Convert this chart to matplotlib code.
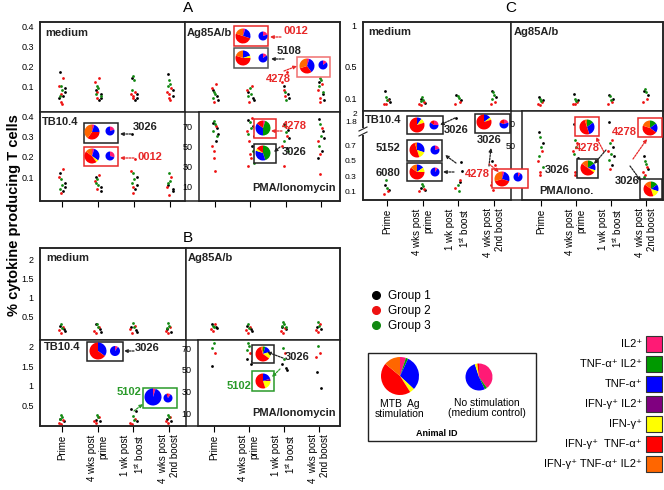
import matplotlib
matplotlib.use("Agg")
import matplotlib.pyplot as plt
from matplotlib.patches import Rectangle
from matplotlib.lines import Line2D

plt.rcParams['font.family'] = ['Liberation Sans', 'DejaVu Sans']
plt.rcParams['mathtext.fontset'] = 'custom'
plt.rcParams['mathtext.rm'] = 'Liberation Sans'

# ---- data -------------------------------------------------------------
TIMEPOINTS = ["Prime", "4 wks post\nprime", "1 wk post\n1$^{\\mathrm{st}}$ boost", "4  wks post\n2nd boost"]
GROUPS = ["Group 1", "Group 2", "Group 3"]
GROUP_COLORS = ["#000000", "#ee1111", "#118811"]

# each quadrant: 4 timepoints x [group1, group2, group3] values
A_MED = [[[0.17, 0.09, 0.07, 0.05, 0.04], [0.14, 0.10, 0.06, 0.02, 0.01], [0.10, 0.08, 0.05]],
         [[0.08, 0.06, 0.04, 0.03], [0.14, 0.12, 0.07, 0.04], [0.10, 0.09, 0.06, 0.05]],
         [[0.14, 0.06, 0.04, 0.03], [0.07, 0.06, 0.05, 0.04], [0.15, 0.13, 0.08]],
         [[0.16, 0.08, 0.05], [0.09, 0.07, 0.06, 0.04, 0.03], [0.13, 0.11, 0.10]]]
A_AG85 = [[[0.08, 0.05, 0.03], [0.11, 0.09, 0.02], [0.07, 0.06, 0.04]],
          [[0.07, 0.04, 0.03], [0.10, 0.08, 0.02], [0.09, 0.06, 0.05]],
          [[0.10, 0.06, 0.04], [0.17, 0.12, 0.08, 0.05], [0.07, 0.03]],
          [[0.12, 0.06, 0.03], [0.11, 0.08, 0.04, 0.02], [0.14, 0.13, 0.10, 0.07]]]
A_TB = [[[0.12, 0.07, 0.05, 0.03], [0.14, 0.10, 0.02], [0.09, 0.06, 0.04]],
        [[0.10, 0.05, 0.03], [0.11, 0.08, 0.04], [0.09, 0.06, 0.07]],
        [[0.31, 0.10, 0.06, 0.04], [0.19, 0.13, 0.05, 0.02], [0.12, 0.09, 0.07]],
        [[0.06, 0.04, 0.03], [0.10, 0.05, 0.01], [0.12, 0.08, 0.07]]]
A_PMA = [[[73, 68, 62, 55], [70, 50, 45, 38, 25], [75, 72, 65, 60]],
         [[76, 70, 60, 50], [78, 65, 55, 42, 38, 30], [74, 68, 62, 45, 33]],
         [[72, 66, 58, 48], [60, 50, 30], [70, 64, 55, 45]],
         [[77, 65, 58, 45, 38], [68, 55, 42, 22], [72, 60, 50]]]

B_MED = [[[0.25, 0.15, 0.10], [0.20, 0.12, 0.05], [0.30, 0.18]],
         [[0.28, 0.15, 0.08], [0.22, 0.10, 0.05], [0.30, 0.20]],
         [[0.20, 0.12, 0.08], [0.25, 0.15, 0.06], [0.32, 0.22]],
         [[0.15, 0.08], [0.20, 0.10, 0.05], [0.32, 0.25, 0.18]]]
B_AG85 = [[[0.28, 0.20, 0.18], [0.30, 0.15, 0.10], [0.25, 0.22]],
          [[0.25, 0.15, 0.10], [0.20, 0.12, 0.05], [0.28, 0.18]],
          [[0.22, 0.15], [0.18, 0.10, 0.05], [0.35, 0.30, 0.25, 0.20]],
          [[0.22, 0.15], [0.30, 0.12, 0.08], [0.35, 0.25]]]
B_TB = [[[0.15, 0.10], [0.12, 0.05, 0.02], [0.25, 0.20, 0.15]],
        [[0.12, 0.08], [0.20, 0.10, 0.03], [0.25, 0.18]],
        [[0.40, 0.36, 0.10], [0.15, 0.05, 0.02], [0.22, 0.12]],
        [[0.15, 0.08], [0.20, 0.10, 0.03], [0.25, 0.18]]]
B_PMA = [[[53], [65], [78, 75, 70]],
         [[60, 55, 58], [65], [75, 72, 68]],
         [[55, 52, 50], [65], [70, 60]],
         [[48, 33], [65, 62], [72]]]

C_MED = [[[0.20, 0.10, 0.06], [0.08, 0.04, 0.03], [0.12, 0.09]],
         [[0.10, 0.05], [0.06, 0.03, 0.02], [0.12, 0.09, 0.07]],
         [[0.15, 0.08], [0.06, 0.04], [0.13, 0.11]],
         [[0.20, 0.12], [0.06, 0.03], [0.18, 0.15, 0.10]]]
C_AG85 = [[[0.12, 0.08], [0.06, 0.04, 0.02], [0.10, 0.07]],
          [[0.16, 0.08], [0.06, 0.04, 0.03], [0.10, 0.07]],
          [[0.15, 0.10], [0.06, 0.04], [0.13, 0.09]],
          [[0.20, 0.15], [0.10, 0.06], [0.22, 0.18]]]
C_TB = [[[0.18, 0.12], [0.10, 0.06], [0.25, 0.15]],
        [[0.15, 0.12], [0.13, 0.10], [0.20, 0.17]],
        [[1.90, 0.49, 0.37, 0.22], [0.25, 0.15], [0.18, 0.10]],
        [[0.50, 0.25], [0.45, 0.18, 0.12], [0.35, 0.30, 0.22]]]
C_PMA = [[[62, 52], [45, 35, 25, 22], [58, 48, 40, 30]],
         [[70, 38, 30], [52, 45, 25, 22], [55, 48, 42, 35]],
         [[72, 48, 40, 32], [55, 45, 28], [52, 42, 36]],
         [[40, 28], [30, 25, 22], [35, 33, 20]]]

# cytokine subsets (pie slices)
CYTO_LABELS = ["IL2⁺", "TNF-α⁺ IL2⁺", "TNF-α⁺", "IFN-γ⁺ IL2⁺", "IFN-γ⁺",
               "IFN-γ⁺  TNF-α⁺", "IFN-γ⁺ TNF-α⁺ IL2⁺"]
CYTO_COLORS = ["#ff1a75", "#009900", "#0000ff", "#800080", "#ffff00", "#ff0000", "#ff6600"]

#                 IL2 TNF/IL2 TNF IFN/IL2 IFN IFN/TNF triple
PIE_LEG_BIG   = [5, 2, 30, 0, 4, 45, 14]
PIE_LEG_SMALL = [40, 3, 52, 0, 3, 2, 0]
PIE_A_0012    = [5, 0, 25, 0, 0, 50, 20]
PIE_A_0012_m  = [20, 0, 80, 0, 0, 0, 0]
PIE_A_5108    = [0, 0, 20, 0, 5, 55, 20]
PIE_A_5108_m  = [15, 0, 85, 0, 0, 0, 0]
PIE_A_4278    = [5, 0, 35, 0, 0, 30, 30]
PIE_A_4278_m  = [15, 0, 85, 0, 0, 0, 0]
PIE_A_TB3026  = [5, 0, 20, 0, 0, 35, 40]
PIE_A_TB3026m = [20, 0, 80, 0, 0, 0, 0]
PIE_A_TB0012  = [5, 0, 30, 0, 5, 45, 15]
PIE_A_TB0012m = [30, 0, 70, 0, 0, 0, 0]
PIE_A_P4278   = [5, 45, 35, 0, 0, 15, 0]
PIE_A_P3026   = [0, 45, 35, 0, 5, 15, 0]
PIE_B_3026    = [0, 0, 35, 0, 0, 65, 0]
PIE_B_3026_m  = [10, 0, 90, 0, 0, 0, 0]
PIE_B_5102    = [5, 0, 95, 0, 0, 0, 0]
PIE_B_5102_m  = [10, 0, 85, 0, 0, 5, 0]
PIE_B_P3026   = [0, 5, 15, 0, 15, 60, 5]
PIE_B_P5102   = [0, 0, 20, 5, 20, 55, 0]
PIE_C_3026a   = [0, 0, 10, 0, 10, 80, 0]
PIE_C_3026a_m = [25, 0, 60, 0, 0, 15, 0]
PIE_C_5152    = [0, 0, 30, 0, 15, 50, 5]
PIE_C_5152_m  = [20, 0, 80, 0, 0, 0, 0]
PIE_C_6080    = [0, 0, 15, 0, 10, 60, 15]
PIE_C_6080_m  = [10, 0, 90, 0, 0, 0, 0]
PIE_C_3026b   = [0, 0, 15, 0, 5, 80, 0]
PIE_C_3026b_m = [20, 0, 60, 0, 0, 20, 0]
PIE_C_4278    = [5, 0, 25, 0, 0, 40, 30]
PIE_C_4278_m  = [10, 0, 90, 0, 0, 0, 0]
PIE_C_P4278a  = [0, 15, 30, 0, 0, 50, 5]
PIE_C_P3026a  = [0, 15, 15, 0, 5, 50, 15]
PIE_C_P4278b  = [0, 15, 20, 0, 0, 45, 20]
PIE_C_P3026b  = [0, 15, 15, 0, 15, 40, 15]

# ---- layout helpers (pixel coordinates) -------------------------------
W, H = 664, 490
fig = plt.figure(figsize=(W / 100, H / 100), dpi=100)

def px_axes(L, T, R, B):
    return fig.add_axes([L / W, 1 - B / H, (R - L) / W, (B - T) / H])

OFFS = [-0.06, 0.04, -0.02, 0.07, -0.09, 0.01, 0.09, -0.04]

def quad(L, T, R, B, t0, t3, ylim, data, yticks=None, ylabels=None,
         bottom=False, xlabels=False, tf=None, ysize=6.5):
    ax = px_axes(L, T, R, B)
    s = (t3 - t0) / 3
    ax.set_xlim((L - t0) / s, (R - t0) / s)
    ax.set_ylim(*ylim)
    for sp in ax.spines.values():
        sp.set_linewidth(1.1)
        sp.set_color('#222222')
    for g in range(3):
        xs, ys = [], []
        for i, tp in enumerate(data):
            for k, v in enumerate(tp[g]):
                xs.append(i + OFFS[(k * 3 + g) % len(OFFS)])
                ys.append(tf(v) if tf else v)
        ax.scatter(xs, ys, s=4, color=GROUP_COLORS[g], lw=0, zorder=3)
    if bottom:
        ax.set_xticks(range(4))
        ax.tick_params(axis='x', direction='out', length=4, width=0.8, pad=2)
        if xlabels:
            ax.set_xticklabels(TIMEPOINTS, rotation=90, fontsize=7, va='top',
                               ha='center', multialignment='right')
        else:
            ax.set_xticklabels([])
    else:
        ax.set_xticks([])
    if yticks is not None:
        ax.set_yticks(yticks)
        ax.set_yticklabels(ylabels if ylabels else [str(t) for t in yticks])
        ax.tick_params(axis='y', length=0, labelsize=ysize, pad=4.5)
    else:
        ax.set_yticks([])
    return ax

# ---- panel A ----
quad(40, 22, 185, 112, 62, 170, (-0.03, 0.42), A_MED, [0.1, 0.2, 0.3, 0.4])
quad(185, 22, 340, 112, 215, 321, (-0.03, 0.42), A_AG85)
quad(40, 112, 185, 201, 62, 170, (-0.018, 0.42), A_TB, [0.1, 0.2, 0.3, 0.4], bottom=True)
quad(199, 112, 340, 201, 215, 321, (-5, 84), A_PMA, [10, 30, 50, 70], bottom=True)

# ---- panel B ----
B_TICKS, B_LAB = [0.5, 1, 1.5, 2], ["0.5", "1", "1.5", "2"]
quad(40, 248, 186, 340, 62, 169, (-0.13, 2.29), B_MED, B_TICKS, B_LAB)
quad(186, 248, 340, 340, 214, 319, (-0.13, 2.29), B_AG85)
quad(40, 340, 186, 426, 62, 169, (-0.04, 2.18), B_TB, B_TICKS, B_LAB, bottom=True, xlabels=True)
quad(198, 340, 340, 426, 214, 319, (-2, 77.4), B_PMA, [10, 30, 50, 70], bottom=True, xlabels=True)

# ---- panel C ----
def brk(v):
    # broken axis: values above the break are compressed into the top strip
    return v if v <= 1 else 1.013 + (v - 1.8) * 0.51

quad(363, 22, 511, 111, 387, 494, (-0.05, 1.04), C_MED, [0.1, 0.5, 1], ["0.1", "0.5", "1"])
quad(511, 22, 663, 111, 541, 646, (-0.05, 1.04), C_AG85)
quad(363, 111, 511, 200, 387, 494, (-0.013, 1.154), C_TB,
     [0.1, 0.3, 0.5, 0.7, brk(1.8), brk(2)], ["0.1", "0.3", "0.5", "0.7", "1.8", "2"],
     bottom=True, xlabels=True, tf=brk, ysize=6)
quad(522, 111, 663, 200, 541, 646, (-1, 82), C_PMA, [50, 70], bottom=True, xlabels=True)

# ---- overlay for boxes, pies, labels ----
ov = fig.add_axes([0, 0, 1, 1])
ov.axis('off')

for L, T, R, B in [(40, 22, 340, 201), (40, 248, 340, 426), (363, 22, 663, 200)]:
    ov.add_patch(Rectangle((L, T), R - L, B - T, fill=False, lw=1.1, ec='#222222'))

# broken axis marks (panel C, TB10.4)
ov.add_patch(Rectangle((358, 128), 10, 7, fc='white', ec='none', zorder=4))
ov.plot([359, 367], [131, 127], color='#222222', lw=0.8, zorder=5)
ov.plot([359, 367], [136, 132], color='#222222', lw=0.8, zorder=5)

RED, BLK, GRN = '#e82828', '#222222', '#2a9a2a'

def box(L, T, R, B, c):
    ov.add_patch(Rectangle((L, T), R - L, B - T, fc='white', ec=c, lw=1.1, zorder=2))

def pie(fr, cx, cy, r):
    ov.pie(fr, colors=CYTO_COLORS, center=(cx, cy), radius=r, startangle=-90,
           frame=True, wedgeprops=dict(linewidth=0, zorder=3))

def lab(x, y, s, c, ha='left', fs=8):
    ov.text(x, y, s, color=c, fontsize=fs, fontweight='bold', ha=ha, va='center', zorder=6)

def arrow(x0, y0, x1, y1, c):
    ov.annotate('', xy=(x1, y1), xytext=(x0, y0),
                arrowprops=dict(arrowstyle='-|>', color=c, lw=0.9, ls=(0, (1.5, 1)),
                                mutation_scale=5, shrinkA=0, shrinkB=0), zorder=6)

# panel A
box(234, 26, 268, 46, RED); pie(PIE_A_0012, 243, 36, 7.5); pie(PIE_A_0012_m, 263, 36, 4.5)
lab(283, 31, "0012", RED); arrow(281, 37, 270, 37, RED)
box(234, 48, 268, 68, '#555555'); pie(PIE_A_5108, 243, 58, 7.5); pie(PIE_A_5108_m, 263, 58, 4.5)
lab(277, 51, "5108", BLK); arrow(284, 59, 271, 59, BLK)
box(297, 57, 330, 77, '#f07070'); pie(PIE_A_4278, 307, 66, 7.5); pie(PIE_A_4278_m, 323, 65, 4.5)
lab(266, 79, "4278", RED); arrow(284, 71, 297, 66, RED)
box(84, 123, 118, 143, BLK); pie(PIE_A_TB3026, 92, 132, 7.5); pie(PIE_A_TB3026m, 110, 131, 4.5)
lab(133, 127, "3026", BLK); arrow(131, 134, 120, 134, BLK)
box(84, 147, 118, 166, RED); pie(PIE_A_TB0012, 92, 156, 7.5); pie(PIE_A_TB0012m, 110, 156, 4.5)
lab(137, 157, "0012", RED); arrow(134, 158, 120, 158, RED)
box(254, 119, 276, 138, RED); pie(PIE_A_P4278, 263, 128, 7.5)
lab(282, 126, "4278", RED); arrow(282, 131, 271, 131, RED)
box(254, 144, 276, 163, BLK); pie(PIE_A_P3026, 263, 153, 7.5)
lab(282, 152, "3026", BLK); arrow(280, 147, 274, 152, BLK)

# panel B
box(87, 342, 123, 361, BLK); pie(PIE_B_3026, 98, 351, 8.5); pie(PIE_B_3026_m, 115, 351, 5)
lab(135, 348, "3026", BLK); arrow(134, 351, 124, 351, BLK)
box(143, 388, 177, 408, GRN); pie(PIE_B_5102, 153, 397, 8.5); pie(PIE_B_5102_m, 168, 398, 4.5)
lab(117, 392, "5102", GRN); arrow(134, 411, 143, 404, GRN)
box(252, 345, 274, 363, BLK); pie(PIE_B_P3026, 263, 354, 7.5)
lab(285, 357, "3026", BLK); arrow(283, 358, 267, 352, BLK)
box(252, 371, 274, 391, GRN); pie(PIE_B_P5102, 263, 381, 7.5)
lab(227, 386, "5102", GRN); arrow(280, 369, 272, 377, GRN)

# panel C
box(407, 116, 443, 134, BLK); pie(PIE_C_3026a, 417, 125, 7.5); pie(PIE_C_3026a_m, 434, 125, 4.5)
lab(444, 130, "3026", BLK); arrow(455, 118, 440, 125, BLK)
box(407, 140, 442, 161, BLK); pie(PIE_C_5152, 417, 150, 7.5); pie(PIE_C_5152_m, 435, 150, 4.5)
lab(388, 148, "5152", BLK, ha='center'); arrow(456, 163, 445, 155, BLK)
box(407, 163, 442, 181, BLK); pie(PIE_C_6080, 417, 172, 7.5); pie(PIE_C_6080_m, 435, 172, 4.5)
lab(388, 173, "6080", BLK, ha='center'); arrow(454, 172, 443, 172, BLK)
box(475, 114, 510, 133, BLK); pie(PIE_C_3026b, 484, 122, 7.5); pie(PIE_C_3026b_m, 504, 124, 4.5)
lab(489, 140, "3026", BLK, ha='center'); arrow(489, 166, 491, 148, BLK)
box(492, 169, 528, 188, RED); pie(PIE_C_4278, 502, 179, 7.5); pie(PIE_C_4278_m, 518, 177, 4.5)
lab(477, 174, "4278", RED, ha='center'); arrow(489, 164, 499, 172, RED)
box(575, 117, 599, 136, RED); pie(PIE_C_P4278a, 587, 127, 7.5)
lab(587, 148, "4278", RED, ha='center'); arrow(604, 152, 596, 137, RED)
box(577, 159, 598, 178, BLK); pie(PIE_C_P3026a, 588, 168, 7.5)
lab(557, 170, "3026", BLK, ha='center'); arrow(606, 150, 594, 164, BLK)
box(638, 118, 662, 137, RED); pie(PIE_C_P4278b, 650, 128, 7.5)
lab(624, 132, "4278", RED, ha='center'); arrow(633, 159, 647, 139, RED)
box(640, 179, 662, 199, BLK); pie(PIE_C_P3026b, 651, 189, 7.5)
lab(627, 181, "3026", BLK, ha='center'); arrow(630, 166, 641, 181, BLK)

# panel letters and quadrant titles
for x, y, s in [(188, 8, "A"), (188, 238, "B"), (511, 8, "C")]:
    ov.text(x, y, s, fontsize=11, ha='center', va='center')
for x, y, s, ha in [(45, 33, "medium", 'left'), (187, 33, "Ag85A/b", 'left'),
                    (42, 122, "TB10.4", 'left'), (336, 188, "PMA/Ionomycin", 'right'),
                    (46, 258, "medium", 'left'), (188, 258, "Ag85A/b", 'left'),
                    (44, 347, "TB10.4", 'left'), (336, 413, "PMA/Ionomycin", 'right'),
                    (368, 32, "medium", 'left'), (514, 32, "Ag85A/b", 'left'),
                    (365, 120, "TB10.4", 'left'), (594, 191, "PMA/Iono.", 'right')]:
    lab(x, y, s, BLK, ha=ha)

fig.text(14 / W, 1 - 215 / H, "% cytokine producing T cells", rotation=90,
         fontsize=10.5, fontweight='bold', ha='center', va='center')

# group legend
handles = [Line2D([], [], marker='o', ls='', color=c, markersize=5.5) for c in GROUP_COLORS]
fig.legend(handles, GROUPS, loc='upper left', bbox_to_anchor=(364 / W, 1 - 284 / H),
           frameon=False, fontsize=8.5, handletextpad=0.5, labelspacing=0.25,
           handlelength=1, borderpad=0)

# animal ID legend
ov.add_patch(Rectangle((368, 353), 168, 88, fill=False, ec=BLK, lw=1.0))
pie(PIE_LEG_BIG, 400, 376, 19)
pie(PIE_LEG_SMALL, 479, 377, 13.5)
ov.text(400, 409, "MTB  Ag\nstimulation", fontsize=7.5, ha='center', va='center', linespacing=1.0)
ov.text(487, 408, "No stimulation\n(medium control)", fontsize=7.5, ha='center', va='center', linespacing=1.0)
ov.text(437, 433, "Animal ID", fontsize=6.5, fontweight='bold', ha='center', va='center')

# cytokine colour legend
for i, (s, c) in enumerate(zip(CYTO_LABELS, CYTO_COLORS)):
    yc = 344 + i * 20
    ov.add_patch(Rectangle((646, yc - 8), 16, 16, fc=c, ec='#333333', lw=0.8))
    ov.text(642, yc, s, fontsize=8, ha='right', va='center')

ov.set_xlim(0, W)
ov.set_ylim(H, 0)
ov.set_aspect('auto')

fig.savefig("out.png", dpi=100)
